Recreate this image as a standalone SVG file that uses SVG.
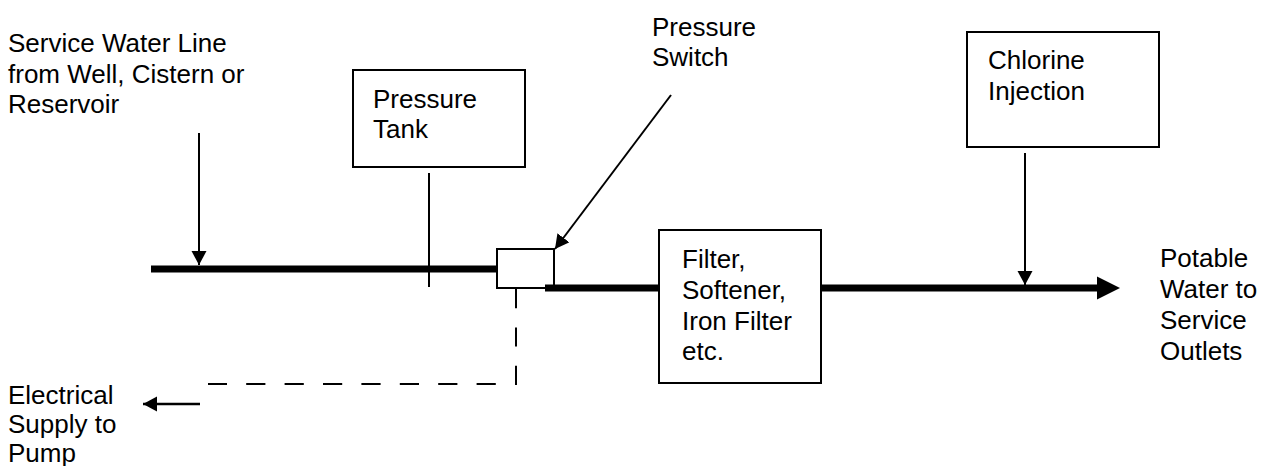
<svg xmlns="http://www.w3.org/2000/svg" width="1265" height="466" viewBox="0 0 1265 466">
  <defs>
    <style>
      text { font-family: "Liberation Sans", Arial, sans-serif; font-size: 26px; fill: #000; }
      .box { fill: #fff; stroke: #000; stroke-width: 2; }
      .thin { stroke: #000; stroke-width: 2; fill: none; }
      .thick { stroke: #000; stroke-width: 7; fill: none; }
      .dash { stroke: #000; stroke-width: 2; fill: none; stroke-dasharray: 19.2 19.2; }
    </style>
    <marker id="ah" markerUnits="userSpaceOnUse" markerWidth="16" markerHeight="16" refX="14" refY="7.5" orient="auto">
      <path d="M0,0 L14,7.5 L0,15 Z" fill="#000"/>
    </marker>
  </defs>
  <rect width="1265" height="466" fill="#fff"/>

  <g id="source-label">
    <text x="8" y="52">Service Water Line</text>
    <text x="8" y="83">from Well, Cistern or</text>
    <text x="8" y="113">Reservoir</text>
  </g>

  <g id="pressure-tank">
    <rect class="box" x="353" y="70" width="172" height="97"/>
    <text x="373" y="108">Pressure</text>
    <text x="373" y="138">Tank</text>
  </g>

  <g id="pressure-switch-label">
    <text x="652" y="36">Pressure</text>
    <text x="652" y="66">Switch</text>
  </g>

  <g id="chlorine-injection">
    <rect class="box" x="967" y="32" width="192" height="115"/>
    <text x="988" y="69">Chlorine</text>
    <text x="988" y="100">Injection</text>
  </g>

  <g id="connectors">
    <line class="thick" x1="151" y1="269" x2="497" y2="269"/>
    <line class="thin" x1="199" y1="133" x2="199" y2="265" marker-end="url(#ah)"/>
    <line class="thin" x1="429" y1="173" x2="429" y2="287"/>
    <line class="thin" x1="671" y1="95" x2="555" y2="249" marker-end="url(#ah)"/>
    <path class="dash" d="M516,289 L516,384 L208,384"/>
    <line x1="200" y1="404" x2="143" y2="404" stroke="#000" stroke-width="2.5" marker-end="url(#ah)"/>
    <line class="thin" x1="1025" y1="153" x2="1025" y2="285" marker-end="url(#ah)"/>
    <line class="thick" x1="822" y1="288" x2="1098" y2="288"/>
    <path d="M1097,276.5 L1120,288 L1097,299.5 Z" fill="#000"/>
  </g>

  <g id="pressure-switch">
    <rect class="box" x="497" y="249" width="57" height="39"/>
  </g>

  <g id="switch-outlet">
    <line class="thick" x1="545" y1="288" x2="660" y2="288"/>
  </g>

  <g id="treatment">
    <rect class="box" x="659" y="230" width="162" height="153"/>
    <text x="682" y="268">Filter,</text>
    <text x="682" y="299">Softener,</text>
    <text x="682" y="330">Iron Filter</text>
    <text x="682" y="360">etc.</text>
  </g>

  <g id="outlet-label">
    <text x="1160" y="267">Potable</text>
    <text x="1160" y="298">Water to</text>
    <text x="1160" y="329">Service</text>
    <text x="1160" y="360">Outlets</text>
  </g>

  <g id="electrical-label">
    <text x="8" y="404">Electrical</text>
    <text x="8" y="433">Supply to</text>
    <text x="8" y="462">Pump</text>
  </g>
</svg>
